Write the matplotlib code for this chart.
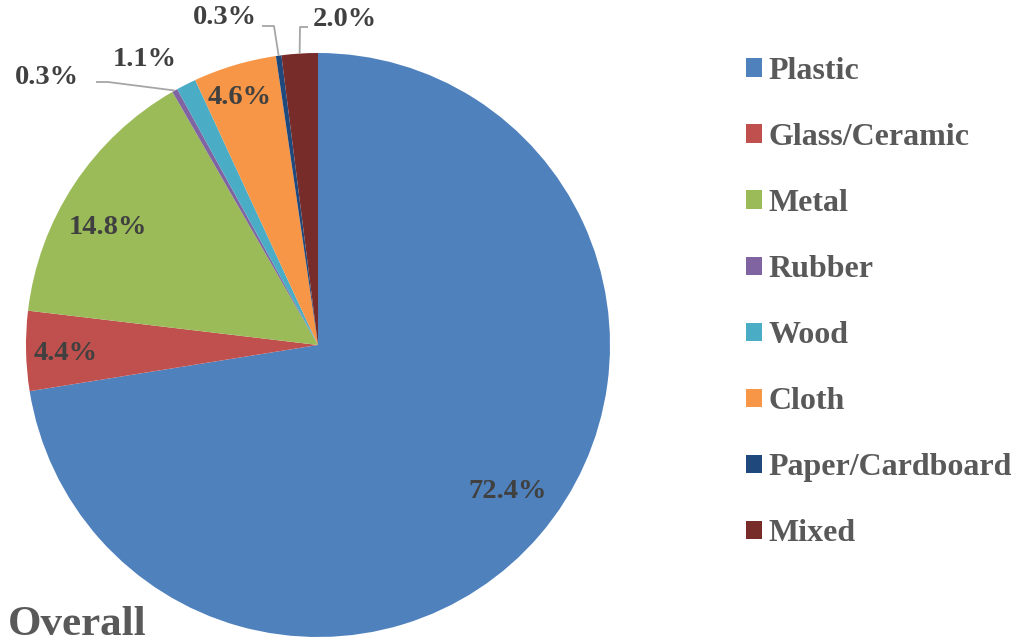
import numpy as np
import matplotlib
matplotlib.use("Agg")
import matplotlib.pyplot as plt
from matplotlib.patches import Patch

plt.rcParams['font.family'] = ['Liberation Serif', 'DejaVu Serif']
plt.rcParams['font.weight'] = 'bold'

# data (clockwise from 12 o'clock)
materials = ['Plastic', 'Glass/Ceramic', 'Metal', 'Rubber', 'Wood',
             'Cloth', 'Paper/Cardboard', 'Mixed']
shares = [72.4, 4.4, 14.8, 0.3, 1.1, 4.6, 0.3, 2.0]
colors = ['#4F81BD', '#C0504D', '#9BBB59', '#8064A2', '#4BACC6',
          '#F79646', '#1F497D', '#772C2A']

LABEL_COLOR = '#404040'
LEGEND_COLOR = '#595959'

W, H = 1018, 643
fig = plt.figure(figsize=(W / 100, H / 100), dpi=100)

# pie centre and radius in pixels
cx, cy, r = 318, 345, 292
ax = fig.add_axes([(cx - r) / W, (H - cy - r) / H, 2 * r / W, 2 * r / H])
wedges, _ = ax.pie(shares, colors=colors, startangle=90, counterclock=False,
                   radius=1, wedgeprops=dict(linewidth=0))
ax.set_xlim(-1, 1)
ax.set_ylim(-1, 1)
ax.set_aspect('equal')
ax.axis('off')

def px(x, y):
    # pixel position -> pie data coordinates
    return (x - cx) / r, (cy - y) / r

# label placement per slice (pixel positions)
inside = {0: (508, 492), 1: (66, 353), 2: (108, 228), 5: (240, 97)}
outside = {3: (47, 77), 4: (145, 60), 6: (225, 18), 7: (345, 20)}

for i, (x, y) in {**inside, **outside}.items():
    tx, ty = px(x, y)
    ax.text(tx, ty, f'{shares[i]:.1f}%', ha='center', va='center',
            fontsize=20.5, fontweight='bold', color=LABEL_COLOR, clip_on=False)

# leader lines for small slices: label end -> elbow -> slice edge
def slice_edge(i, frac=1.0):
    w = wedges[i]
    mid = np.deg2rad((w.theta1 + w.theta2) / 2)
    return frac * np.cos(mid), frac * np.sin(mid)

leaders = {3: [(96, 82), (108, 82)], 6: [(262, 26), (274, 26)],
           7: [(308, 27), (300, 27)]}
for i, pts in leaders.items():
    xs = [px(*p)[0] for p in pts]
    ys = [px(*p)[1] for p in pts]
    ex, ey = slice_edge(i, 1.0)
    xs.append(ex)
    ys.append(ey)
    ax.plot(xs, ys, color='#A6A6A6', lw=1.3, clip_on=False,
            solid_capstyle='butt')

handles = [Patch(facecolor=c, edgecolor='none') for c in colors]
leg = fig.legend(handles, materials, loc='upper left',
                 bbox_to_anchor=(733 / W, 1 - 44 / H), frameon=False,
                 prop=dict(family='Liberation Serif', weight='bold', size=23),
                 labelcolor=LEGEND_COLOR, handlelength=0.5, handleheight=0.5,
                 handletextpad=0.22, labelspacing=1.16, borderaxespad=0)

fig.text(8 / W, 1 - 635 / H, 'Overall', fontsize=31, fontweight='bold',
         color=LEGEND_COLOR, ha='left', va='baseline')

fig.savefig('out.png', dpi=100)
